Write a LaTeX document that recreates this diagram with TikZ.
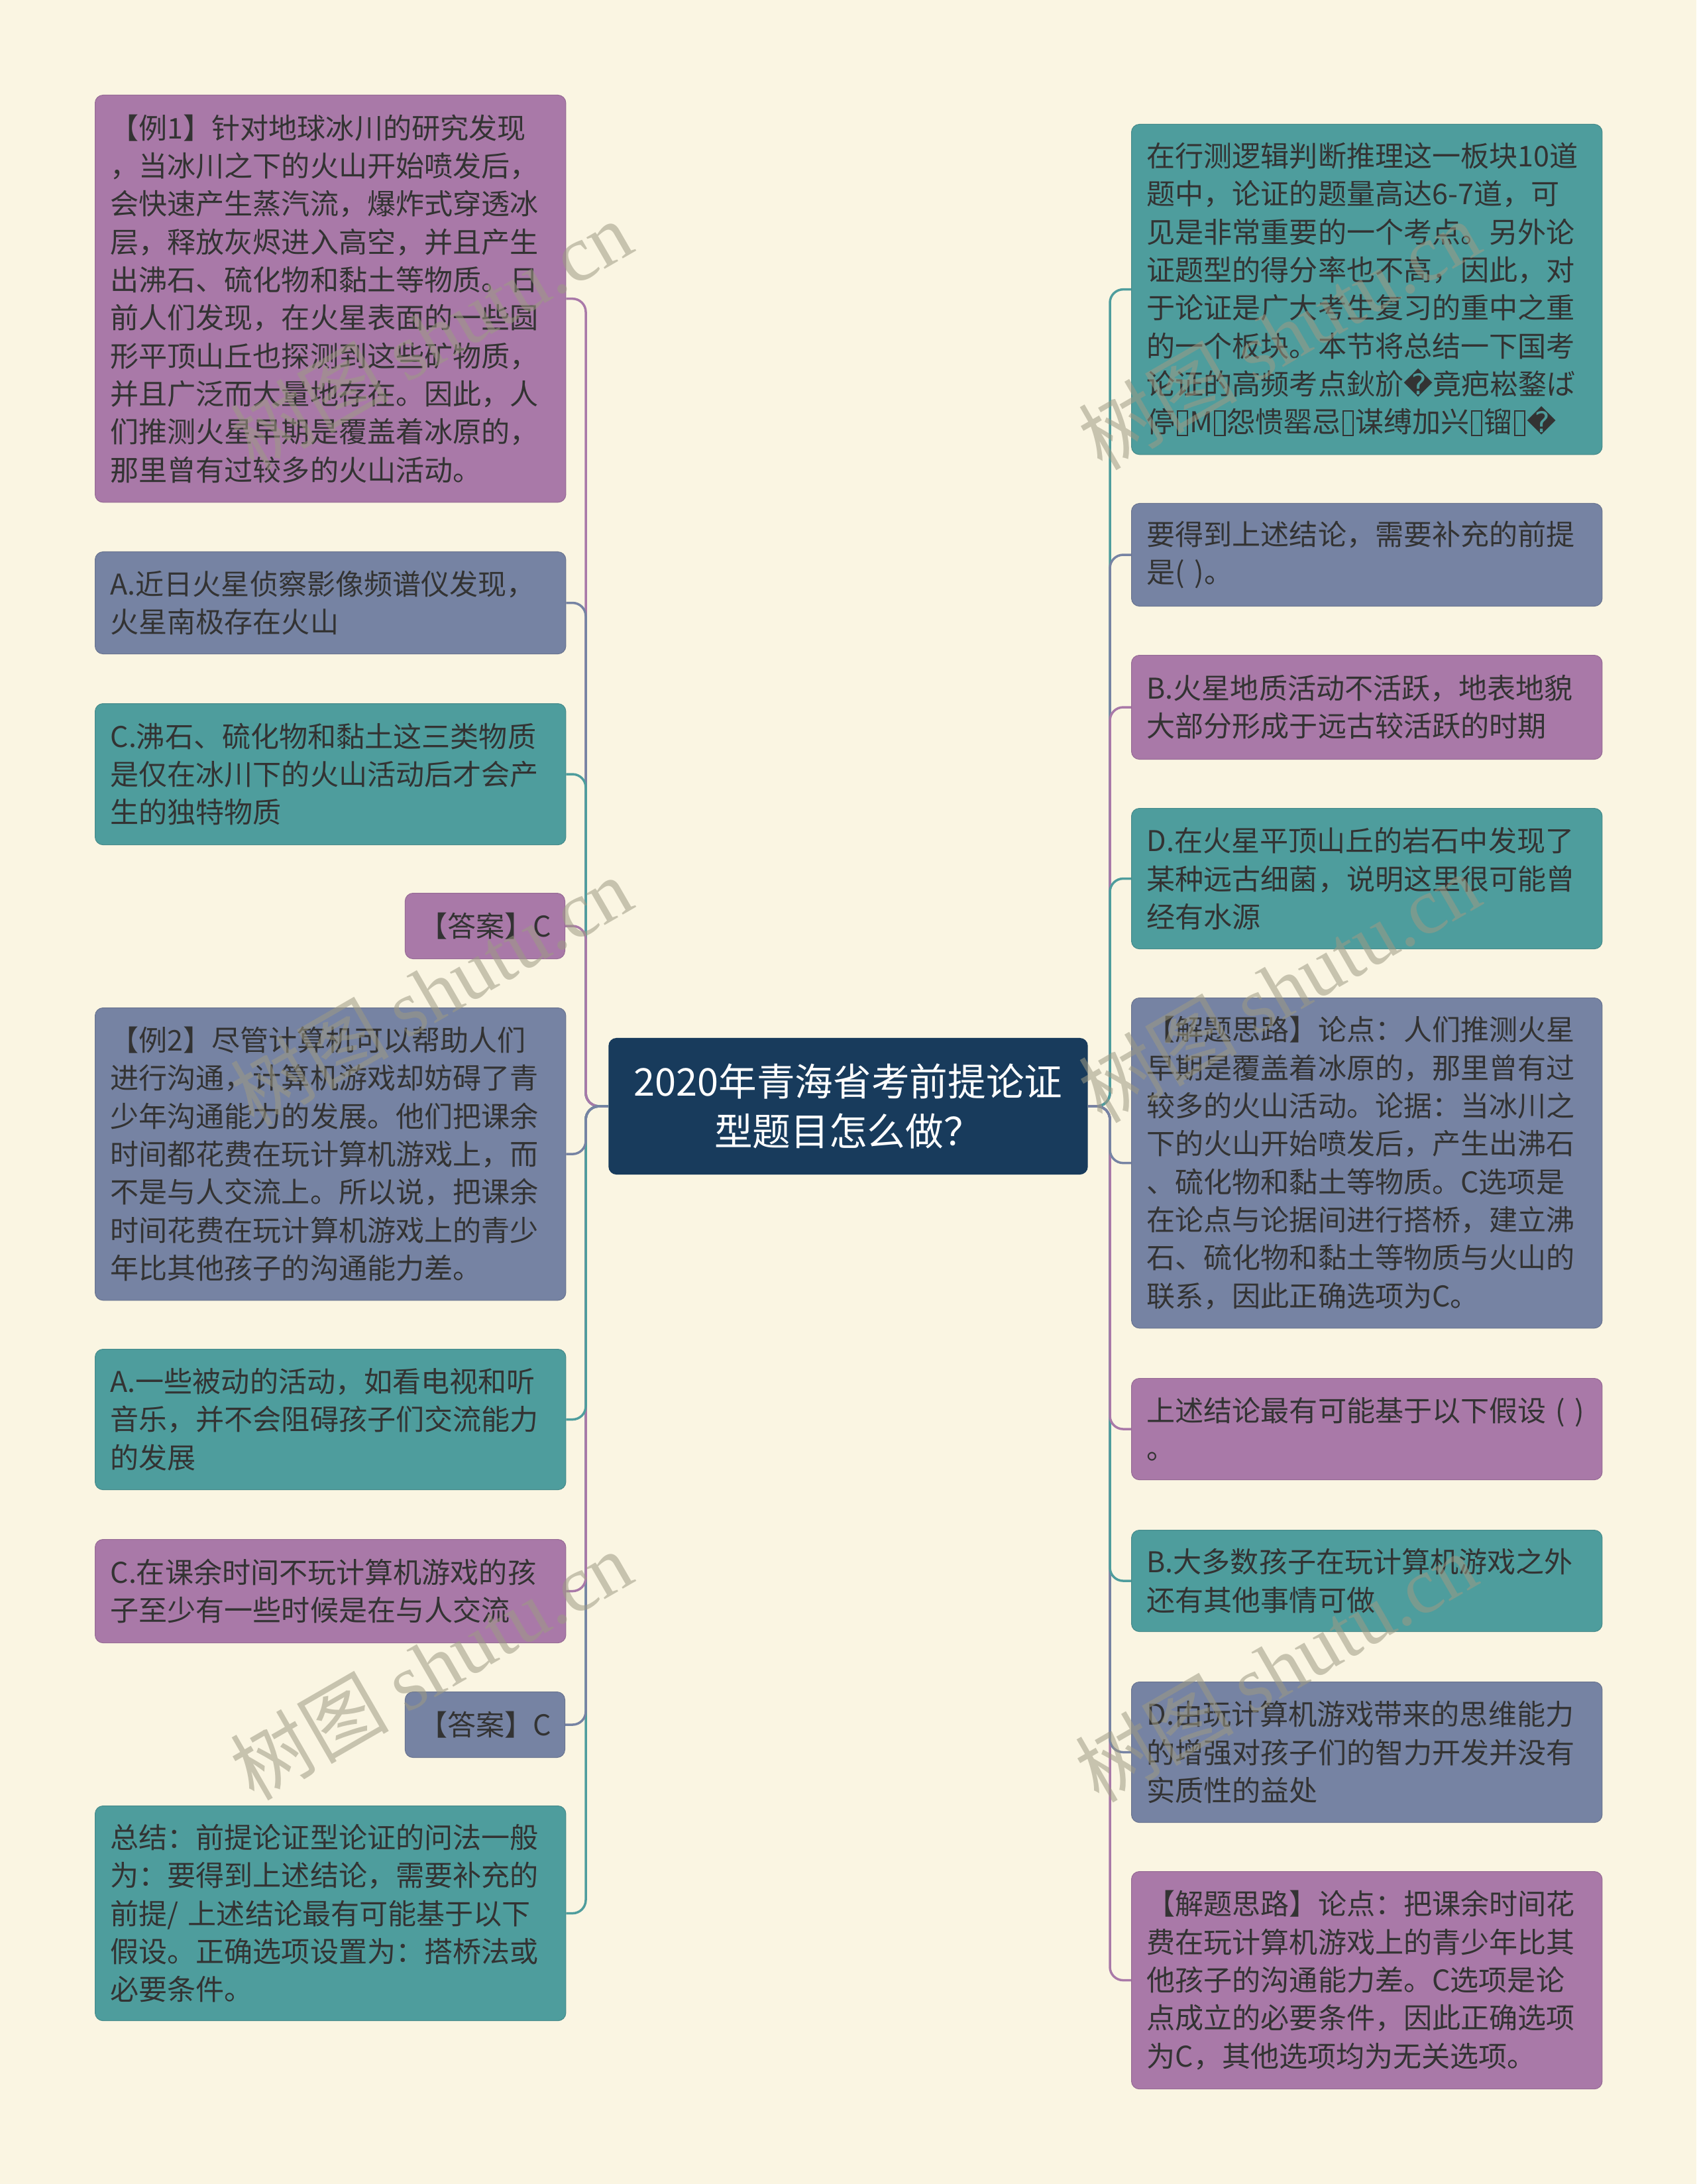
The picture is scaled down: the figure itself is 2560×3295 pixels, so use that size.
\documentclass[tikz,border=0pt]{standalone}
\usepackage{fontspec}
\setmainfont{Noto Sans CJK SC}
\newfontfamily\dejavu{DejaVu Sans}
\newfontfamily\wmserif{Liberation Serif}
\usetikzlibrary{calc}
\definecolor{bgc}{HTML}{FAF5E2}
\definecolor{cpur}{HTML}{A979A8}
\definecolor{cslate}{HTML}{7683A3}
\definecolor{cteal}{HTML}{4E9D9D}
\definecolor{croot}{HTML}{183B5C}
\definecolor{ctext}{HTML}{333333}
\definecolor{cwm}{HTML}{9E9A84}
\pgfdeclarelayer{paper}
\pgfdeclarelayer{links}
\pgfdeclarelayer{mark}
\pgfsetlayers{paper,links,main,mark}
\newcommand\tofu{\kern0.05em{\setlength{\fboxsep}{0pt}\setlength{\fboxrule}{0.05em}\raisebox{-0.08em}{\fbox{\rule{0pt}{0.82em}\rule{0.3em}{0pt}}}}\kern0.05em}
\newcommand\repl{{\dejavu\symbol{"FFFD}}}
\tikzset{
  card/.style={anchor=north west, rounded corners=0.12cm, inner xsep=0.23cm, inner ysep=0pt,
    text width=6.64cm, align=left, text=ctext, fill=#1, draw=#1!88!black, line width=0.01cm,
    font=\fontsize{12.25}{16.3}\selectfont},
  ans/.style={anchor=north east, rounded corners=0.12cm, inner sep=0pt, minimum width=2.41cm,
    minimum height=0.99cm, align=center, text=ctext, fill=#1, draw=#1!88!black, line width=0.01cm,
    font=\fontsize{12.25}{16.3}\selectfont},
  rootbox/.style={rounded corners=0.12cm, inner sep=0pt, minimum width=7.23cm, minimum height=2.06cm,
    align=center, text=white, fill=croot, font=\fontsize{16.4}{21.5}\selectfont},
  link/.style={line width=0.035cm, rounded corners=0.2cm},
  wm/.style={rotate=30, text=cwm, text opacity=0.55, inner sep=0pt, font=\fontsize{34}{34}\selectfont}
}
\begin{document}
\begin{tikzpicture}[x=0.01cm,y=-0.01cm]
\begin{pgfonlayer}{paper}
\fill[bgc] (0,0) rectangle (2560,3295);
\end{pgfonlayer}
\useasboundingbox (0,0) rectangle (2560,3295);

\coordinate (trunkL) at (884,0);
\coordinate (trunkR) at (1675,0);

\node[rootbox] (root) at (1280,1669) {2020年青海省考前提论证\\型题目怎么做？};

% left column
\node[card=cpur, minimum height=6.14cm] (L1) at (143,143) {【例1】针对地球冰川的研究发现\\，当冰川之下的火山开始喷发后，\\会快速产生蒸汽流，爆炸式穿透冰\\层，释放灰烬进入高空，并且产生\\出沸石、硫化物和黏土等物质。日\\前人们发现，在火星表面的一些圆\\形平顶山丘也探测到这些矿物质，\\并且广泛而大量地存在。因此，人\\们推测火星早期是覆盖着冰原的，\\那里曾有过较多的火山活动。};
\node[card=cslate, minimum height=1.54cm] (L2) at (143,832) {A.近日火星侦察影像频谱仪发现，\\火星南极存在火山};
\node[card=cteal, minimum height=2.13cm] (L3) at (143,1061) {C.沸石、硫化物和黏土这三类物质\\是仅在冰川下的火山活动后才会产\\生的独特物质};
\node[ans=cpur] (L4) at (853,1347) {【答案】C};
\node[card=cslate, minimum height=4.41cm] (L5) at (143,1520) {【例2】尽管计算机可以帮助人们\\进行沟通，计算机游戏却妨碍了青\\少年沟通能力的发展。他们把课余\\时间都花费在玩计算机游戏上，而\\不是与人交流上。所以说，把课余\\时间花费在玩计算机游戏上的青少\\年比其他孩子的沟通能力差。};
\node[card=cteal, minimum height=2.12cm] (L6) at (143,2035) {A.一些被动的活动，如看电视和听\\音乐，并不会阻碍孩子们交流能力\\的发展};
\node[card=cpur, minimum height=1.56cm] (L7) at (143,2322) {C.在课余时间不玩计算机游戏的孩\\子至少有一些时候是在与人交流};
\node[ans=cslate] (L8) at (853,2552) {【答案】C};
\node[card=cteal, minimum height=3.24cm] (L9) at (143,2724) {总结：前提论证型论证的问法一般\\为：要得到上述结论，需要补充的\\前提/ 上述结论最有可能基于以下\\假设。正确选项设置为：搭桥法或\\必要条件。};

% right column
\node[card=cteal, minimum height=4.98cm] (R1) at (1707,187) {在行测逻辑判断推理这一板块10道\\题中，论证的题量高达6-7道，可\\见是非常重要的一个考点。另外论\\证题型的得分率也不高，因此，对\\于论证是广大考生复习的重中之重\\的一个板块。本节将总结一下国考\\论证的高频考点鈥斺\repl 竟疤崧鍪ば\\停\tofu M\tofu 怨愦罂忌\tofu 谋缚加兴\tofu 镏\tofu\repl};
\node[card=cslate, minimum height=1.55cm] (R2) at (1707,759) {要得到上述结论，需要补充的前提\\是( )。};
\node[card=cpur, minimum height=1.57cm] (R3) at (1707,988) {B.火星地质活动不活跃，地表地貌\\大部分形成于远古较活跃的时期};
\node[card=cteal, minimum height=2.12cm] (R4) at (1707,1219) {D.在火星平顶山丘的岩石中发现了\\某种远古细菌，说明这里很可能曾\\经有水源};
\node[card=cslate, minimum height=4.98cm] (R5) at (1707,1505) {【解题思路】论点：人们推测火星\\早期是覆盖着冰原的，那里曾有过\\较多的火山活动。论据：当冰川之\\下的火山开始喷发后，产生出沸石\\、硫化物和黏土等物质。C选项是\\在论点与论据间进行搭桥，建立沸\\石、硫化物和黏土等物质与火山的\\联系，因此正确选项为C。};
\node[card=cpur, minimum height=1.53cm] (R6) at (1707,2079) {上述结论最有可能基于以下假设 ( )\\。};
\node[card=cteal, minimum height=1.53cm] (R7) at (1707,2308) {B.大多数孩子在玩计算机游戏之外\\还有其他事情可做};
\node[card=cslate, minimum height=2.12cm] (R8) at (1707,2537) {D.由玩计算机游戏带来的思维能力\\的增强对孩子们的智力开发并没有\\实质性的益处};
\node[card=cpur, minimum height=3.28cm] (R9) at (1707,2823) {【解题思路】论点：把课余时间花\\费在玩计算机游戏上的青少年比其\\他孩子的沟通能力差。C选项是论\\点成立的必要条件，因此正确选项\\为C，其他选项均为无关选项。};

\begin{pgfonlayer}{links}
% left, above root (far to near)
\draw[link, cpur]   (root.west) -- (root.west -| trunkL) |- (L1.east);
\draw[link, cslate] (root.west) -- (root.west -| trunkL) |- (L2.east);
\draw[link, cteal]  (root.west) -- (root.west -| trunkL) |- (L3.east);
\draw[link, cpur]   (root.west) -- (root.west -| trunkL) |- (L4.east);
% left, below root (far to near)
\draw[link, cteal]  (root.west) -- (root.west -| trunkL) |- (L9.east);
\draw[link, cslate] (root.west) -- (root.west -| trunkL) |- (L8.east);
\draw[link, cpur]   (root.west) -- (root.west -| trunkL) |- (L7.east);
\draw[link, cteal]  (root.west) -- (root.west -| trunkL) |- (L6.east);
\draw[link, cslate] (root.west) -- (root.west -| trunkL) |- (L5.east);
% right, above root
\draw[link, cteal]  (root.east) -- (root.east -| trunkR) |- (R1.west);
\draw[link, cslate] (root.east) -- (root.east -| trunkR) |- (R2.west);
\draw[link, cpur]   (root.east) -- (root.east -| trunkR) |- (R3.west);
\draw[link, cteal]  (root.east) -- (root.east -| trunkR) |- (R4.west);
% right, below root
\draw[link, cpur]   (root.east) -- (root.east -| trunkR) |- (R9.west);
\draw[link, cslate] (root.east) -- (root.east -| trunkR) |- (R8.west);
\draw[link, cteal]  (root.east) -- (root.east -| trunkR) |- (R7.west);
\draw[link, cpur]   (root.east) -- (root.east -| trunkR) |- (R6.west);
\draw[link, cslate] (root.east) -- (root.east -| trunkR) |- (R5.west);
\end{pgfonlayer}

\begin{pgfonlayer}{mark}
\foreach \x/\y [count=\i] in {650/505, 650/1495, 650/2512, 1930/505, 1930/1490, 1925/2515}
  \node[wm] (wm\i) at (\x,\y) {树图 {\wmserif shutu.cn}};
\end{pgfonlayer}
\end{tikzpicture}
\end{document}
